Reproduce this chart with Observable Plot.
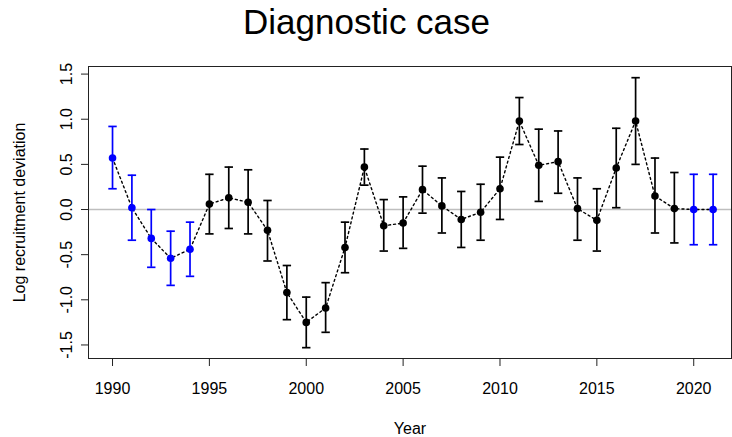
<!DOCTYPE html>
<html>
<head>
<meta charset="utf-8">
<script src="https://cdn.jsdelivr.net/npm/d3@7"></script>
<script src="https://cdn.jsdelivr.net/npm/@observablehq/plot@0.6"></script>
<style>
  body { margin: 0; background: #fff; }
  svg { display: block; }
</style>
</head>
<body>
<div id="chart"></div>
<script>
// Recruitment deviations by year with approximate 95% intervals
const years = [1990, 1991, 1992, 1993, 1994, 1995, 1996, 1997, 1998, 1999,
               2000, 2001, 2002, 2003, 2004, 2005, 2006, 2007, 2008, 2009,
               2010, 2011, 2012, 2013, 2014, 2015, 2016, 2017, 2018, 2019,
               2020, 2021];
const estimates = [0.57, 0.02, -0.32, -0.54, -0.44, 0.06, 0.13, 0.08, -0.23, -0.92,
                   -1.25, -1.09, -0.42, 0.47, -0.18, -0.15, 0.22, 0.04, -0.11, -0.03,
                   0.23, 0.98, 0.49, 0.53, 0.01, -0.12, 0.46, 0.98, 0.15, 0.01,
                   0.00, 0.00];
const upper = [0.92, 0.38, 0.00, -0.24, -0.14, 0.39, 0.47, 0.44, 0.10, -0.62,
               -0.97, -0.81, -0.14, 0.67, 0.11, 0.14, 0.48, 0.35, 0.20, 0.28,
               0.58, 1.24, 0.89, 0.87, 0.35, 0.23, 0.90, 1.46, 0.57, 0.41,
               0.39, 0.39];
const lower = [0.23, -0.34, -0.64, -0.84, -0.74, -0.27, -0.21, -0.27, -0.57, -1.22,
               -1.53, -1.36, -0.70, 0.27, -0.46, -0.43, -0.04, -0.26, -0.42, -0.34,
               -0.11, 0.72, 0.09, 0.18, -0.34, -0.46, 0.02, 0.50, -0.26, -0.37,
               -0.39, -0.39];
// Early and late years are drawn in blue
const blueYears = [1990, 1991, 1992, 1993, 1994, 2020, 2021];

const xTicks = [1990, 1995, 2000, 2005, 2010, 2015, 2020];
const yTicks = [-1.5, -1.0, -0.5, 0.0, 0.5, 1.0, 1.5];

const data = years.map((year, i) => ({
  year, est: estimates[i], hi: upper[i], lo: lower[i],
  blue: blueYears.includes(year)
}));

const W = 732, H = 437;
const mL = 88, mR = 1, mT = 66, mB = 79;
const shiftToPageCenter = W / 2 - (mL + (W - mL - mR) / 2);

const colorOf = d => d.blue ? "#0000ff" : "#000000";

// Horizontal bar used as the error-bar cap
const capSymbol = {
  draw(ctx, size) {
    const r = Math.sqrt(size / Math.PI);
    ctx.moveTo(-r, 0);
    ctx.lineTo(r, 0);
  }
};

const chart = Plot.plot({
  width: W,
  height: H,
  marginLeft: mL,
  marginRight: mR,
  marginTop: mT,
  marginBottom: mB,
  style: {
    fontFamily: "'Liberation Sans', Arial, Helvetica, sans-serif",
    fontSize: "16px",
    color: "black",
    background: "white"
  },
  x: { domain: [1988.76, 2021.95] },
  y: { domain: [-1.65, 1.584] },
  marks: [
    Plot.ruleY([0], { stroke: "#bebebe", strokeWidth: 1.3 }),
    Plot.line(data, {
      x: "year", y: "est", stroke: "black",
      strokeWidth: 1.4, strokeDasharray: "2,3"
    }),
    Plot.ruleX(data, {
      x: "year", y1: "lo", y2: "hi",
      stroke: colorOf, strokeWidth: 1.7
    }),
    Plot.dot(data, {
      x: "year", y: "hi", symbol: capSymbol, r: 4.2,
      stroke: colorOf, strokeWidth: 1.7, fill: "none"
    }),
    Plot.dot(data, {
      x: "year", y: "lo", symbol: capSymbol, r: 4.2,
      stroke: colorOf, strokeWidth: 1.7, fill: "none"
    }),
    Plot.dot(data, { x: "year", y: "est", fill: colorOf, r: 3.8 }),
    Plot.frame({ stroke: "#222", strokeWidth: 1 }),
    Plot.axisX({
      ticks: xTicks, tickSize: 8, tickPadding: 16,
      tickFormat: d => String(d), fontSize: 16, label: null, stroke: "#222"
    }),
    Plot.axisY({
      ticks: yTicks, tickSize: 7, tickFormat: () => "",
      label: null, stroke: "#222"
    }),
    Plot.text(yTicks, {
      y: d => d, text: d => d.toFixed(1),
      frameAnchor: "left", dx: -22, rotate: -90,
      textAnchor: "middle", lineAnchor: "middle", fontSize: 16
    }),
    Plot.text(["Year"], {
      frameAnchor: "bottom", dy: 70, lineAnchor: "middle", fontSize: 16
    }),
    Plot.text(["Log recruitment deviation"], {
      frameAnchor: "left", dx: -69, rotate: -90,
      textAnchor: "middle", lineAnchor: "middle", fontSize: 16
    }),
    Plot.text(["Diagnostic case"], {
      frameAnchor: "top", dx: shiftToPageCenter, dy: -44,
      lineAnchor: "middle", fontSize: 35
    })
  ]
});

document.getElementById("chart").appendChild(chart);
</script>
</body>
</html>
